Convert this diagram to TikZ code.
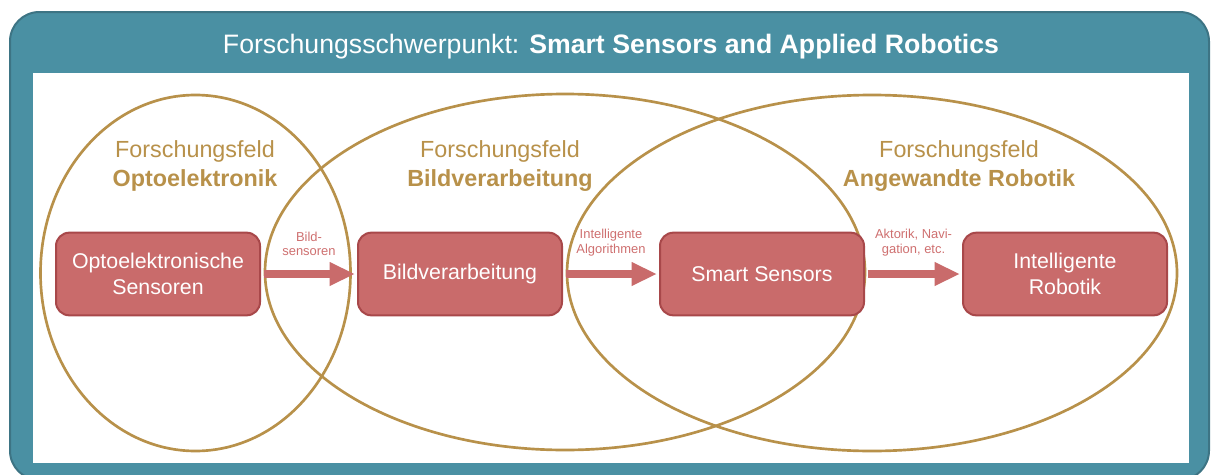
\documentclass[tikz,border=0pt]{standalone}
\usepackage{fontspec}
\setmainfont{Liberation Sans}
\usetikzlibrary{arrows.meta}

\definecolor{frameblue}{HTML}{4A90A3}
\definecolor{framedark}{HTML}{3D7484}
\definecolor{fieldgold}{HTML}{B8914A}
\definecolor{boxred}{HTML}{C96B6B}
\definecolor{boxline}{HTML}{A8484A}
\definecolor{labelred}{HTML}{CF7070}

\tikzset{
  box/.style={draw=boxline, fill=boxred, line width=1.5pt, rounded corners=10pt,
    minimum width=153pt, minimum height=62pt, text=white, align=center,
    font=\fontsize{16}{19.5}\selectfont},
  field/.style={draw=fieldgold, line width=2pt},
  fieldlabel/.style={text=fieldgold, align=center, font=\fontsize{17.5}{21.75}\selectfont},
  flow/.style={-{Triangle[length=19pt, width=16.5pt]}, draw=boxred, line width=6.5pt,
    shorten <=2pt, shorten >=1.5pt},
  flowlabel/.style={above=7pt, text=labelred, align=center, font=\fontsize{9.7}{10.7}\selectfont}
}

\begin{document}
\begin{tikzpicture}[x=0.75pt, y=-0.75pt]
\useasboundingbox (0,0) rectangle (1211,475);

% frame and white panel
\draw[draw=framedark, fill=frameblue, line width=1.5pt, rounded corners=22pt] (10,12) rectangle (1209,480);
\fill[white] (33,73) rectangle (1189,463);
\node[text=white, font=\fontsize{20}{24}\selectfont] (title) at (611,47)
  {Forschungsschwerpunkt: \textbf{Smart Sensors and Applied Robotics}};

% research fields
\draw[field] (195.5,273) ellipse [x radius=155, y radius=178];
\draw[field] (565,272) ellipse [x radius=300, y radius=178];
\draw[field] (872,273) ellipse [x radius=305, y radius=178];

\node[fieldlabel] (optofield) at (195,166) {Forschungsfeld\\\textbf{Optoelektronik}};
\node[fieldlabel] (bildfield) at (500,166) {Forschungsfeld\\\textbf{Bildverarbeitung}};
\node[fieldlabel] (robofield) at (959,166) {Forschungsfeld\\\textbf{Angewandte Robotik}};

% chain
\node[box] (opto) at (158,274) {Optoelektronische\\Sensoren};
\node[box] (bild) at (460,274) {Bildverarbeitung};
\node[box] (smart) at (762,274) {Smart Sensors};
\node[box] (robotik) at (1065,274) {Intelligente\\Robotik};

\draw[flow] (opto) to node[flowlabel]{Bild-\\sensoren} (bild);
\draw[flow] (bild) to node[flowlabel]{Intelligente\\Algorithmen} (smart);
\draw[flow] (smart) to node[flowlabel]{Aktorik, Navi-\\gation, etc.} (robotik);
\end{tikzpicture}
\end{document}
